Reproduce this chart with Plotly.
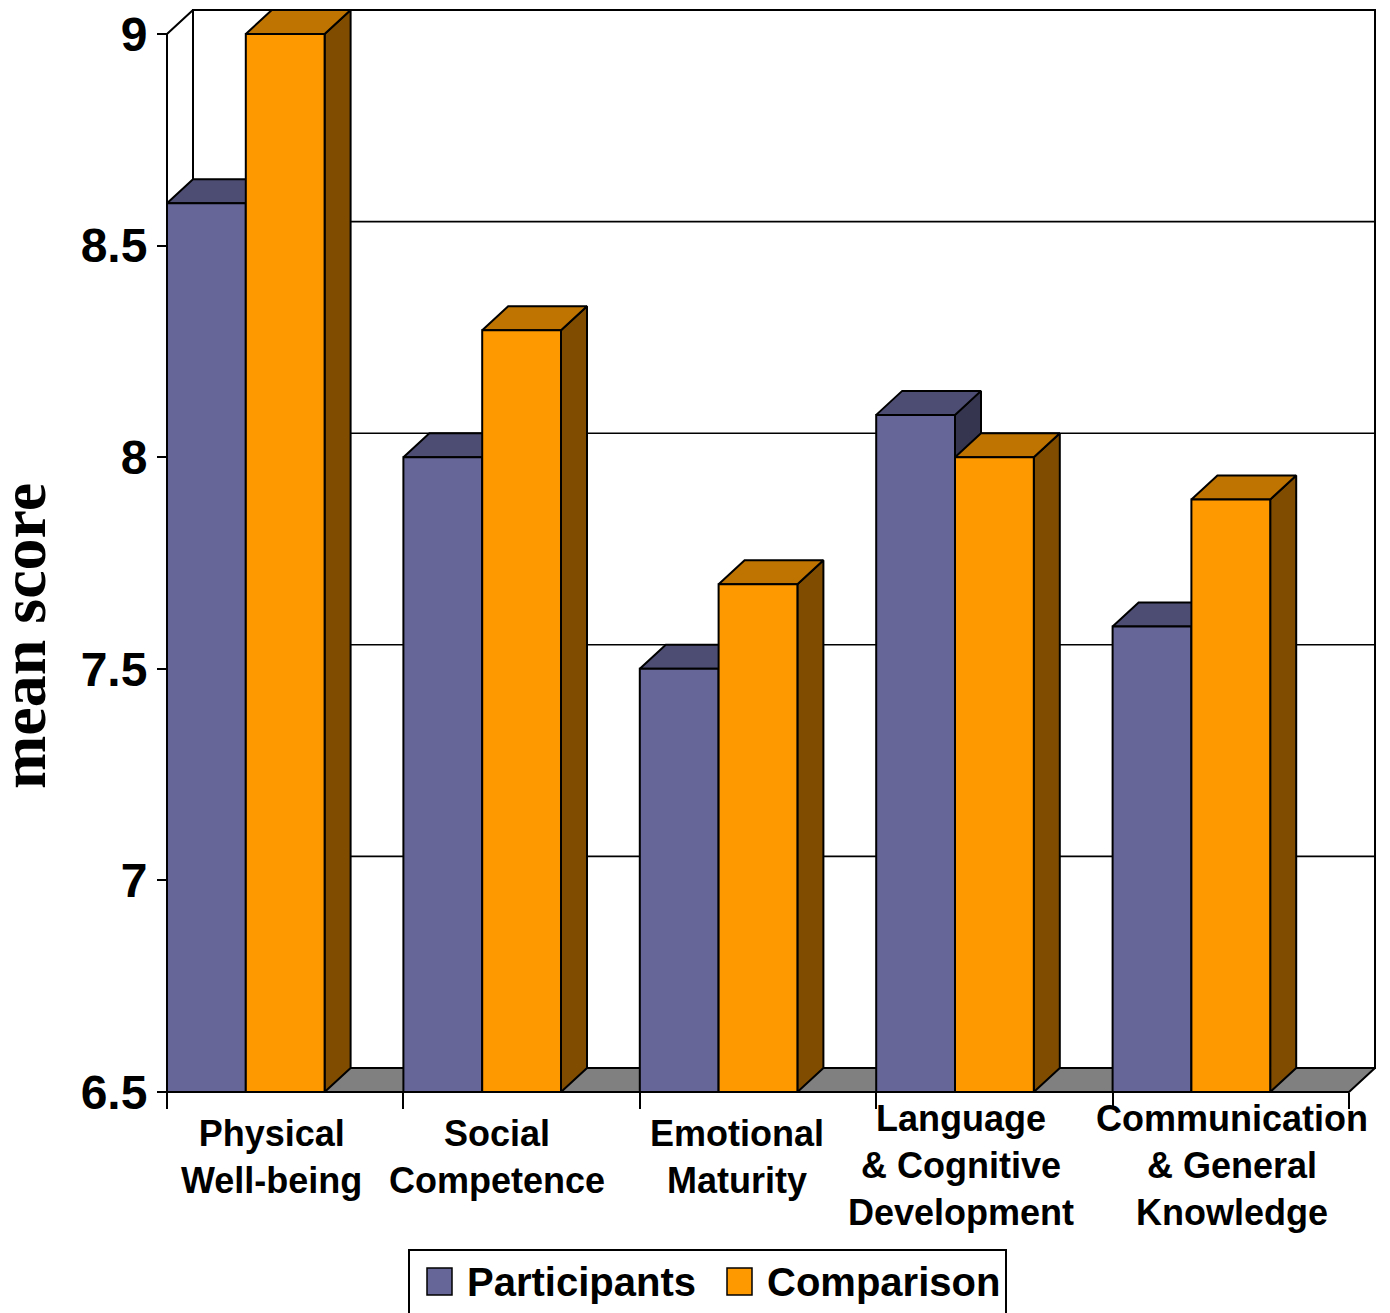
import plotly.graph_objects as go

# ---- data -------------------------------------------------------------
categories = [
    "Physical<br>Well-being",
    "Social<br>Competence",
    "Emotional<br>Maturity",
    "Language<br>& Cognitive<br>Development",
    "Communication<br>& General<br>Knowledge",
]
participants = [8.6, 8.0, 7.5, 8.1, 7.6]
comparison = [9.0, 8.3, 7.7, 8.0, 7.9]
series_names = ["Participants", "Comparison"]
y_tick_values = [6.5, 7, 7.5, 8, 8.5, 9]
y_tick_labels = ["6.5", "7", "7.5", "8", "8.5", "9"]
y_title = "mean score"

# ---- layout geometry / style -------------------------------------------
W, H = 1390, 1313
ORIGIN_PX = (167, 1092)          # pixel of (first category edge, axis minimum)
CAT_PX = 236.4                   # pixels per category
UNIT_PX = 423.2                  # pixels per score unit
DEPTH_PX = (26, 24)              # oblique depth of the pseudo-3D boxes
Y_MIN, Y_MAX = 6.5, 9.0
N = len(categories)

DX = DEPTH_PX[0] / CAT_PX
DY = DEPTH_PX[1] / UNIT_PX
BAR_W = 1 / 3

COLORS = {
    "Participants": dict(front="#666699", top="#4d4d73", side="#35354f"),
    "Comparison": dict(front="#ff9900", top="#bf7300", side="#804d00"),
}
FLOOR = "#808080"
EDGE = dict(color="black", width=2)
SANS = "Liberation Sans, Arial, sans-serif"
LABEL_FONT = dict(family=SANS, size=36, color="black")
label_shift_px = [-14, -25, -21, -33, 1]


def data_x(px):
    return (px - ORIGIN_PX[0]) / CAT_PX


def data_y(py):
    return Y_MIN + (ORIGIN_PX[1] - py) / UNIT_PX


fig = go.Figure()


def face(xs, ys, fill, line=EDGE):
    fig.add_trace(go.Scatter(
        x=list(xs) + [xs[0]], y=list(ys) + [ys[0]],
        mode="lines", fill="toself", fillcolor=fill, line=line,
        hoverinfo="skip", showlegend=False,
    ))


def segment(xs, ys, width=2):
    fig.add_trace(go.Scatter(
        x=xs, y=ys, mode="lines", line=dict(color="black", width=width),
        hoverinfo="skip", showlegend=False,
    ))


# back wall
face([DX, N + DX, N + DX, DX], [Y_MIN + DY, Y_MIN + DY, Y_MAX + DY, Y_MAX + DY], "white")
# gridlines on side and back walls
for v in y_tick_values[1:-1]:
    segment([0, DX, N + DX], [v, v + DY, v + DY], width=1.6)
# floor
face([0, N, N + DX, DX], [Y_MIN, Y_MIN, Y_MIN + DY, Y_MIN + DY], FLOOR)


def box(x0, value, col):
    x1 = x0 + BAR_W
    # side face
    face([x1, x1 + DX, x1 + DX, x1], [Y_MIN, Y_MIN + DY, value + DY, value], col["side"])
    # top face
    face([x0, x1, x1 + DX, x0 + DX], [value, value, value + DY, value + DY], col["top"])
    # front face
    face([x0, x1, x1, x0], [Y_MIN, Y_MIN, value, value], col["front"])


for i in range(N):
    box(i, participants[i], COLORS["Participants"])
    box(i + BAR_W, comparison[i], COLORS["Comparison"])

# front vertical axis line and the top edge of the side wall
segment([0, 0, DX], [Y_MIN, Y_MAX, Y_MAX + DY])
segment([0, N], [Y_MIN, Y_MIN])

# category labels
for i, cat in enumerate(categories):
    n_lines = cat.count("<br>") + 1
    fig.add_annotation(
        x=i + 0.5, y=data_y(1157 if n_lines == 2 else 1165), xref="x", yref="y",
        text=f"<b>{cat}</b>", showarrow=False, align="center",
        xanchor="center", yanchor="middle", xshift=label_shift_px[i], font=LABEL_FONT,
    )

# y-axis title
fig.add_annotation(
    x=23 / W, y=(H - 636) / H, xref="paper", yref="paper",
    text=f"<b>{y_title}</b>", textangle=-90, showarrow=False,
    xanchor="center", yanchor="middle",
    font=dict(family="Liberation Serif, Times New Roman, serif", size=64, color="black"),
)

# legend box
fig.add_shape(type="rect", xref="paper", yref="paper",
              x0=409 / W, x1=1006 / W, y0=(H - 1250) / H, y1=-0.02,
              line=dict(color="black", width=2), fillcolor="white")
legend_pos = [(427, 465), (727, 765)]
for name, (sx, tx) in zip(series_names, legend_pos):
    fig.add_shape(type="rect", xref="paper", yref="paper",
                  x0=sx / W, x1=(sx + 25) / W, y0=(H - 1295) / H, y1=(H - 1268) / H,
                  line=dict(color="black", width=1.5), fillcolor=COLORS[name]["front"])
    fig.add_annotation(x=tx / W, y=(H - 1282) / H, xref="paper", yref="paper",
                       text=f"<b>{name}</b>", showarrow=False,
                       xanchor="left", yanchor="middle",
                       font=dict(family=SANS, size=40, color="black"))

fig.update_layout(
    width=W, height=H,
    margin=dict(l=0, r=0, t=0, b=0),
    paper_bgcolor="white", plot_bgcolor="white",
    showlegend=False,
    xaxis=dict(
        range=[data_x(0), data_x(W)], showgrid=False, zeroline=False, showline=False,
        tickmode="array", tickvals=list(range(N + 1)), ticktext=[""] * (N + 1),
        ticks="outside", ticklen=16, tickwidth=2, tickcolor="black",
        anchor="free", position=(H - ORIGIN_PX[1]) / H, fixedrange=True,
    ),
    yaxis=dict(
        range=[data_y(H), data_y(0)], showgrid=False, zeroline=False, showline=False,
        tickmode="array", tickvals=y_tick_values, ticktext=y_tick_labels,
        ticks="outside", ticklen=10, tickwidth=2, tickcolor="black",
        ticklabelstandoff=0,
        tickfont=dict(family=SANS, size=48, color="black", weight="bold"),
        anchor="free", position=ORIGIN_PX[0] / W, fixedrange=True,
    ),
)

fig.write_html("out.html")
